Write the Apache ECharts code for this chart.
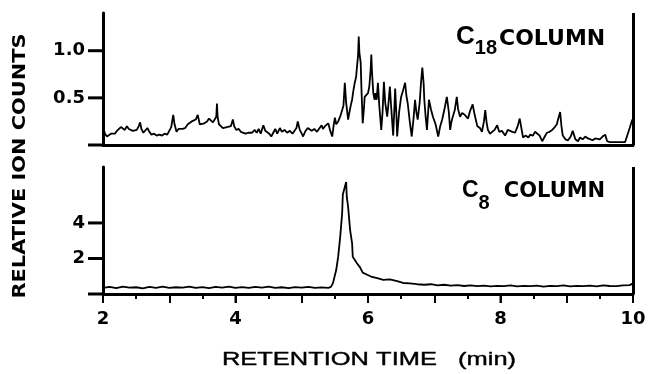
<!DOCTYPE html>
<html>
<head>
<meta charset="utf-8">
<script src="https://cdn.jsdelivr.net/npm/echarts@6/dist/echarts.min.js"></script>
<style>
html,body{margin:0;padding:0;background:#fff;}
#chart{width:649px;height:374px;}
</style>
</head>
<body>
<div id="chart"></div>
<script>
// ---- data ----
const c18Time = [2.00,2.03,2.06,2.09,2.12,2.15,2.18,2.21,2.24,2.27,2.30,2.33,2.36,2.39,2.42,2.45,2.48,2.51,2.54,2.56,2.58,2.61,2.64,2.67,2.70,2.73,2.77,2.81,2.85,2.89,2.93,2.97,3.00,3.03,3.06,3.08,3.11,3.14,3.17,3.20,3.24,3.28,3.31,3.34,3.37,3.40,3.43,3.46,3.49,3.53,3.57,3.60,3.63,3.66,3.69,3.71,3.72,3.73,3.75,3.78,3.81,3.84,3.87,3.90,3.93,3.96,3.98,4.01,4.05,4.08,4.11,4.15,4.19,4.22,4.25,4.29,4.32,4.35,4.38,4.42,4.45,4.48,4.51,4.54,4.57,4.60,4.63,4.67,4.70,4.74,4.78,4.82,4.86,4.89,4.92,4.94,4.97,5.00,5.02,5.05,5.09,5.12,5.15,5.19,5.23,5.27,5.30,5.32,5.35,5.38,5.40,5.43,5.46,5.48,5.50,5.52,5.55,5.58,5.61,5.63,5.65,5.67,5.70,5.72,5.74,5.76,5.78,5.80,5.82,5.83,5.85,5.86,5.87,5.89,5.90,5.92,5.94,5.95,5.97,6.00,6.02,6.04,6.05,6.06,6.08,6.10,6.11,6.13,6.15,6.17,6.20,6.22,6.24,6.26,6.29,6.31,6.33,6.35,6.38,6.40,6.41,6.43,6.44,6.47,6.50,6.53,6.56,6.58,6.60,6.63,6.66,6.69,6.71,6.73,6.75,6.78,6.80,6.82,6.84,6.85,6.87,6.89,6.92,6.95,6.98,7.02,7.06,7.09,7.12,7.16,7.19,7.22,7.24,7.26,7.28,7.31,7.34,7.36,7.39,7.42,7.46,7.49,7.51,7.54,7.58,7.61,7.65,7.69,7.72,7.75,7.77,7.79,7.81,7.84,7.87,7.91,7.95,7.98,8.02,8.05,8.07,8.11,8.14,8.18,8.22,8.26,8.29,8.32,8.34,8.38,8.42,8.45,8.49,8.52,8.55,8.59,8.63,8.66,8.70,8.74,8.78,8.82,8.85,8.88,8.90,8.92,8.94,8.98,9.02,9.06,9.09,9.13,9.17,9.20,9.24,9.28,9.32,9.35,9.39,9.43,9.46,9.50,9.54,9.58,9.61,9.65,9.70,9.76,9.83,9.88,9.91,9.95,9.98,10.00];
const c18Counts = [0.19,0.12,0.09,0.08,0.12,0.14,0.12,0.15,0.13,0.19,0.21,0.16,0.20,0.17,0.18,0.15,0.14,0.16,0.20,0.24,0.17,0.13,0.15,0.18,0.14,0.11,0.12,0.10,0.11,0.10,0.12,0.11,0.15,0.19,0.32,0.22,0.14,0.17,0.19,0.17,0.18,0.22,0.20,0.25,0.23,0.27,0.32,0.22,0.20,0.23,0.25,0.28,0.26,0.24,0.22,0.30,0.44,0.30,0.22,0.21,0.18,0.16,0.19,0.17,0.20,0.27,0.20,0.16,0.17,0.14,0.14,0.12,0.13,0.11,0.13,0.16,0.13,0.17,0.12,0.21,0.15,0.16,0.12,0.09,0.11,0.17,0.12,0.18,0.14,0.16,0.13,0.15,0.12,0.14,0.18,0.25,0.16,0.12,0.09,0.14,0.18,0.20,0.15,0.17,0.14,0.18,0.21,0.17,0.20,0.22,0.23,0.15,0.09,0.20,0.29,0.22,0.25,0.30,0.37,0.42,0.66,0.45,0.27,0.35,0.42,0.48,0.58,0.66,0.72,0.80,0.95,1.15,0.98,0.87,0.62,0.23,0.40,0.51,0.52,0.55,0.62,0.80,0.96,0.78,0.55,0.48,0.55,0.48,0.66,0.42,0.16,0.35,0.67,0.45,0.30,0.45,0.62,0.40,0.10,0.42,0.60,0.30,0.09,0.35,0.51,0.58,0.66,0.52,0.44,0.25,0.09,0.30,0.48,0.35,0.27,0.45,0.66,0.82,0.65,0.48,0.30,0.16,0.48,0.38,0.30,0.22,0.09,0.20,0.27,0.40,0.51,0.35,0.16,0.25,0.30,0.37,0.51,0.38,0.30,0.34,0.32,0.30,0.28,0.36,0.43,0.32,0.20,0.18,0.14,0.25,0.37,0.24,0.16,0.12,0.10,0.16,0.21,0.14,0.15,0.13,0.10,0.16,0.18,0.14,0.13,0.20,0.28,0.16,0.08,0.10,0.08,0.11,0.10,0.14,0.16,0.10,0.04,0.08,0.13,0.14,0.16,0.19,0.22,0.30,0.35,0.20,0.10,0.06,0.05,0.09,0.15,0.06,0.04,0.08,0.06,0.09,0.07,0.08,0.05,0.07,0.06,0.06,0.09,0.11,0.04,0.03,0.03,0.03,0.03,0.03,0.04,0.18,0.25,0.28];

const c8Time = [2.00,2.10,2.20,2.30,2.40,2.50,2.60,2.70,2.80,2.90,3.00,3.10,3.20,3.30,3.40,3.50,3.60,3.70,3.80,3.90,4.00,4.10,4.20,4.30,4.40,4.50,4.60,4.70,4.80,4.90,5.00,5.10,5.20,5.30,5.40,5.44,5.47,5.52,5.55,5.58,5.61,5.62,5.64,5.67,5.68,5.70,5.73,5.76,5.77,5.83,5.88,5.92,5.98,6.06,6.14,6.23,6.33,6.44,6.53,6.63,6.74,6.85,6.95,7.05,7.15,7.25,7.35,7.45,7.55,7.65,7.75,7.85,7.95,8.05,8.15,8.25,8.35,8.45,8.55,8.65,8.75,8.85,8.95,9.05,9.15,9.25,9.35,9.45,9.55,9.65,9.75,9.85,9.95,10.00];
const c8Counts = [0.35,0.40,0.33,0.42,0.36,0.38,0.32,0.40,0.35,0.41,0.34,0.38,0.36,0.42,0.35,0.39,0.33,0.40,0.36,0.41,0.35,0.39,0.34,0.40,0.36,0.42,0.35,0.38,0.33,0.39,0.36,0.40,0.34,0.37,0.35,0.40,0.60,1.35,2.10,3.20,4.55,5.60,5.50,6.30,5.45,4.90,3.60,2.85,2.10,1.75,1.50,1.20,1.10,0.96,0.90,0.80,0.82,0.72,0.62,0.60,0.55,0.52,0.55,0.48,0.52,0.47,0.50,0.45,0.49,0.44,0.47,0.43,0.46,0.44,0.48,0.43,0.46,0.44,0.47,0.42,0.46,0.44,0.48,0.43,0.46,0.44,0.47,0.43,0.48,0.45,0.44,0.48,0.50,0.60];

const xTickLabels = [2,4,6,8,10];
const c18TickLabels = [0.5,1.0];
const c8TickLabels = [2,4];
const xEnd = 10;

const c18Data = c18Time.map((t,i)=>[t,c18Counts[i]]);
const c8Data = c8Time.map((t,i)=>[t,c8Counts[i]]);

const BLACK = '#000';
const tickFont = {color:BLACK,fontFamily:'DejaVu Sans',fontWeight:'bold',fontSize:18};
const hiddenSplit = {show:true,lineStyle:{color:'rgba(0,0,0,0)',width:0}};
const rightBorder = {symbol:'none',silent:true,label:{show:false},
  lineStyle:{color:BLACK,width:3,type:'solid'},emphasis:{disabled:true},data:[{xAxis:xEnd}]};

// y labels carry their tick dash as a rich-text bar
const yRich = {
  v:Object.assign({padding:[0,3,0,0]},tickFont),
  d:{width:15,height:3,backgroundColor:BLACK}
};
const xRich = {
  v:Object.assign({padding:[7,0,0,0]},tickFont),
  d:{width:2,height:9,backgroundColor:BLACK}
};
function yFmt(labels, digits){
  return function(v){
    if (v === 0) return '{d| }';
    if (labels.indexOf(v) >= 0) return '{v|' + (digits ? v.toFixed(digits) : String(v)) + '}{d| }';
    return '';
  };
}

const chart = echarts.init(document.getElementById('chart'),null,{renderer:'canvas'});
chart.setOption({
  animation:false,
  backgroundColor:'#fff',
  grid:[
    {left:103,top:13,width:530,height:132,outerBoundsMode:'none'},
    {left:103,top:167,width:530,height:127,outerBoundsMode:'none'}
  ],
  xAxis:[
    {gridIndex:0,type:'value',min:2,max:10,interval:1,
     axisLine:{show:true,lineStyle:{color:BLACK,width:3}},
     axisTick:{show:false},axisLabel:{show:false},splitLine:hiddenSplit},
    {gridIndex:1,type:'value',min:2,max:10,interval:1,
     axisLine:{show:true,lineStyle:{color:BLACK,width:3}},
     axisTick:{show:true,length:9,lineStyle:{color:BLACK,width:2}},
     minorTick:{show:true,splitNumber:2,length:5,lineStyle:{color:BLACK,width:2}},
     axisLabel:Object.assign({show:true,margin:0,rich:xRich,
       formatter:v=>(xTickLabels.indexOf(v)>=0?'{d| }\n{v|'+v+'}':'')},tickFont),
     splitLine:hiddenSplit}
  ],
  yAxis:[
    {gridIndex:0,type:'value',min:0,max:1.4,interval:0.5,
     axisLine:{show:true,lineStyle:{color:BLACK,width:3}},
     axisTick:{show:false},
     axisLabel:Object.assign({show:true,margin:0,rich:yRich,formatter:yFmt(c18TickLabels,1)},tickFont),
     splitLine:hiddenSplit},
    {gridIndex:1,type:'value',min:0,max:7.15,interval:2,
     axisLine:{show:true,lineStyle:{color:BLACK,width:3}},
     axisTick:{show:false},
     axisLabel:Object.assign({show:true,margin:0,rich:yRich,formatter:yFmt(c8TickLabels,0)},tickFont),
     splitLine:hiddenSplit}
  ],
  series:[
    {name:'C18 COLUMN',type:'line',xAxisIndex:0,yAxisIndex:0,data:c18Data,showSymbol:false,
     lineStyle:{color:BLACK,width:1.8},itemStyle:{color:BLACK},markLine:rightBorder},
    {name:'C8 COLUMN',type:'line',xAxisIndex:1,yAxisIndex:1,data:c8Data,showSymbol:false,
     lineStyle:{color:BLACK,width:1.8},itemStyle:{color:BLACK},markLine:rightBorder}
  ],
  graphic:[
    {type:'text',x:20,y:166,rotation:Math.PI/2,scaleX:1.16,
     style:{text:'RELATIVE ION COUNTS',fill:BLACK,font:'bold 18px "DejaVu Sans"',align:'center',verticalAlign:'middle'}},
    {type:'text',x:369,y:360,scaleX:1.34,
     style:{text:'RETENTION TIME   (min)',fill:BLACK,font:'19px "Liberation Sans"',align:'center',verticalAlign:'middle',stroke:BLACK,lineWidth:0.4}},
    {type:'text',x:456,y:58,
     style:{text:'{c|C}{s|18}{w|COLUMN}',align:'left',verticalAlign:'bottom',fill:BLACK,
       rich:{
         c:{fontFamily:'Liberation Sans',fontWeight:'bold',fontSize:26,verticalAlign:'bottom',padding:[0,0,8,0],fill:BLACK},
         s:{fontFamily:'Liberation Sans',fontWeight:'bold',fontSize:20,verticalAlign:'bottom',padding:[0,2,0,0],fill:BLACK},
         w:{fontFamily:'DejaVu Sans',fontWeight:'bold',fontSize:22,verticalAlign:'bottom',padding:[0,0,8,0],fill:BLACK}
       }}},
    {type:'text',x:462,y:213,
     style:{text:'{c|C}{s|8}{w|COLUMN}',align:'left',verticalAlign:'bottom',fill:BLACK,
       rich:{
         c:{fontFamily:'Liberation Sans',fontWeight:'bold',fontSize:23,verticalAlign:'bottom',padding:[0,0,11,0],fill:BLACK},
         s:{fontFamily:'Liberation Sans',fontWeight:'bold',fontSize:20,verticalAlign:'bottom',padding:[0,14,0,0],fill:BLACK},
         w:{fontFamily:'DejaVu Sans',fontWeight:'bold',fontSize:21,verticalAlign:'bottom',padding:[0,0,11,0],fill:BLACK}
       }}}
  ]
});
</script>
</body>
</html>
